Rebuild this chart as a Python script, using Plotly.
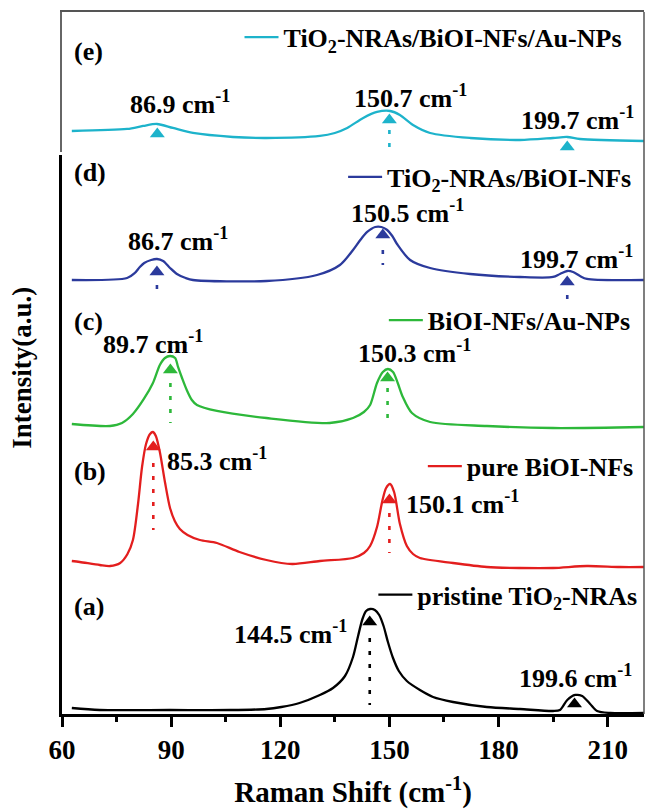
import plotly.graph_objects as go

# ---------------- data (Raman shift in cm-1, intensity in a.u., stacked) ----------------
# (a) pristine TiO2-NRAs
a_x = [62.7, 70.4, 89.7, 106.2, 116.2, 120.3, 125.3, 130.9, 134.5, 137.8, 140.0, 141.4, 142.6, 143.6, 144.7,
       146.0, 147.2, 148.4, 149.6, 151.0, 152.6, 154.8, 158.4, 162.0, 167.5, 176.8, 185.9, 195.0, 196.9, 198.9,
       201.1, 203.0, 205.2, 207.1, 210.7, 220.0]
a_y = [6, 4, 4, 4, 5, 7, 11, 19, 26, 38, 57, 78, 95, 103, 105, 104, 99, 88, 72, 56, 43, 33, 24, 17, 12, 7,
       5, 3, 4, 14, 19, 18, 10, 3, 1, 1]
# (b) pure BiOI-NFs
b_x = [62.7, 64.9, 70.4, 73.2, 76.0, 78.0, 79.5, 80.9, 82.0, 83.1, 84.2, 85.0, 85.8, 86.9, 88.3, 89.7, 91.0,
       92.4, 94.5, 97.9, 102.6, 108.8, 116.2, 123.3, 130.9, 140.0, 143.0, 144.7, 146.6, 148.0, 149.1, 150.2,
       151.3, 152.9, 154.8, 156.5, 158.4, 167.5, 176.8, 185.9, 195.0, 204.3, 213.4, 220.0]
b_y = [153, 152, 149, 148, 151, 160, 174, 210, 247, 270, 280, 282, 278, 262, 232, 206, 193, 185, 179, 174,
       171, 162, 154, 150, 153, 156, 161, 168, 187, 212, 226, 230, 222, 190, 168, 160, 156, 151, 147, 146,
       146, 148, 147, 147]
# (c) BiOI-NFs/Au-NPs
c_x = [62.7, 73.2, 76.5, 79.5, 82.5, 85.0, 86.9, 88.3, 89.7, 91.1, 91.9, 93.0, 94.3, 95.7, 97.1, 102.6,
       116.2, 133.6, 140.0, 143.0, 144.7, 146.6, 148.2, 149.6, 151.0, 152.3, 153.7, 156.2, 161.2, 176.8,
       195.0, 220.0]
c_y = [290, 288, 291, 300, 315, 331, 349, 356, 358, 356, 347, 336, 324, 314, 309, 303, 296, 291, 296, 302,
       309, 331, 342, 345, 342, 331, 317, 301, 292, 288, 286, 287]
# (d) TiO2-NRAs/BiOI-NFs
d_x = [62.7, 77.9, 80.0, 81.4, 82.6, 84.5, 86.1, 87.8, 89.7, 91.6, 94.0, 96.0, 116.2, 130.1, 136.4, 140.0,
       142.0, 143.9, 146.1, 147.8, 149.4, 150.8, 152.1, 155.7, 161.2, 172.2, 185.9, 195.0, 196.9, 198.9,
       200.5, 202.4, 204.3, 220.0]
d_y = [434, 436, 441, 447, 451, 454, 455, 453, 446, 440, 436, 434, 433, 439, 449, 464, 474, 482, 487, 487,
       484, 478, 470, 454, 446, 440, 437, 437, 440, 443, 442, 438, 435, 434]
# (e) TiO2-NRAs/BiOI-NFs/Au-NPs
e_x = [62.7, 77.9, 82.3, 86.1, 90.5, 96.0, 107.0, 116.2, 130.9, 135.0, 138.4, 142.8, 146.6, 150.2, 152.9,
       156.5, 161.2, 172.2, 185.9, 195.0, 198.9, 202.4, 220.0]
e_y = [21, 23, 26, 28, 24, 19, 15, 14, 16, 19, 24, 34, 40, 41, 37, 27, 19, 14, 12, 14, 15, 13, 11]

# peak markers: position, marker height, dotted guide top / bottom, label text
a_pk_x = [144.6, 200.9]; a_pk_y = [92, 10]; a_dot_top = [76, None]; a_dot_bot = [9, None]
a_lbl = ["144.5", "199.6"]
b_pk_x = [85.1, 150.0]; b_pk_y = [267, 214]; b_dot_top = [251, 201]; b_dot_bot = [184, 161]
b_lbl = ["85.3", "150.1"]
c_pk_x = [89.8, 149.5]; c_pk_y = [344, 336]; c_dot_top = [331, 326]; c_dot_bot = [291, 294]
c_lbl = ["89.7", "150.3"]
d_pk_x = [86.1, 148.2, 198.9]; d_pk_y = [442, 479, 432]; d_dot_top = [429, 464, 419]; d_dot_bot = [425, 449, 415]
d_lbl = ["86.7", "150.5", "199.7"]
e_pk_x = [86.2, 150.0, 198.9]; e_pk_y = [18, 32, 5]; e_dot_top = [None, 22, None]; e_dot_bot = [None, 3, None]
e_lbl = ["86.9", "150.7", "199.7"]

# label anchor positions (x, y) for peak labels
a_lbl_x = [122.9, 201.2]; a_lbl_y = [81, 37]
b_lbl_x = [102.6, 170.0]; b_lbl_y = [254, 211]
c_lbl_x = [85.0, 157.0]; c_lbl_y = [371, 362]
d_lbl_x = [91.9, 155.1, 201.4]; d_lbl_y = [474, 502, 456]
e_lbl_x = [92.4, 155.7, 201.7]; e_lbl_y = [49, 55, 33]

names = ["pristine TiO<sub>2</sub>-NRAs", "pure BiOI-NFs", "BiOI-NFs/Au-NPs",
         "TiO<sub>2</sub>-NRAs/BiOI-NFs", "TiO<sub>2</sub>-NRAs/BiOI-NFs/Au-NPs"]
panel_tags = ["(a)", "(b)", "(c)", "(d)", "(e)"]
tag_y = [107, 242, 392, 541, 100]

xticks = [60, 90, 120, 150, 180, 210]

colors = ["#000000", "#E31E1E", "#2DB83A", "#2B3A9C", "#1DB3CB"]

FONT = "Times New Roman, Liberation Serif, serif"

fig = go.Figure()

series = [
    (a_x, a_y, a_pk_x, a_pk_y, a_dot_top, a_dot_bot, a_lbl, a_lbl_x, a_lbl_y),
    (b_x, b_y, b_pk_x, b_pk_y, b_dot_top, b_dot_bot, b_lbl, b_lbl_x, b_lbl_y),
    (c_x, c_y, c_pk_x, c_pk_y, c_dot_top, c_dot_bot, c_lbl, c_lbl_x, c_lbl_y),
    (d_x, d_y, d_pk_x, d_pk_y, d_dot_top, d_dot_bot, d_lbl, d_lbl_x, d_lbl_y),
    (e_x, e_y, e_pk_x, e_pk_y, e_dot_top, e_dot_bot, e_lbl, e_lbl_x, e_lbl_y),
]
legend_names = ["legend", "legend2", "legend3", "legend4", "legend5"]

annotations = []
for i, (sx, sy, px, py, dt, db, lbl, lx, ly) in enumerate(series):
    xa = "x2" if i == 4 else "x"
    ya = "y2" if i == 4 else "y"
    col = colors[i]
    fig.add_trace(go.Scatter(x=sx, y=sy, mode="lines",
                             line=dict(color=col, width=2.3, shape="spline", smoothing=0.8),
                             name=names[i], xaxis=xa, yaxis=ya, legend=legend_names[i], showlegend=True))
    # dotted guides
    gx, gy = [], []
    for k in range(len(px)):
        if dt[k] is not None:
            gx += [px[k], px[k], None]
            gy += [dt[k], db[k], None]
    if gx:
        fig.add_trace(go.Scatter(x=gx, y=gy, mode="lines", line=dict(color=col, width=2.6, dash="4px,9px"),
                                 xaxis=xa, yaxis=ya, showlegend=False, hoverinfo="skip"))
    fig.add_trace(go.Scatter(x=px, y=py, mode="markers", marker=dict(symbol="triangle-up", size=13, color=col),
                             xaxis=xa, yaxis=ya, showlegend=False))
    for k in range(len(lbl)):
        annotations.append(dict(x=lx[k], y=ly[k], xref=xa, yref=ya, text=f"{lbl[k]} cm<sup>-1</sup>",
                                showarrow=False, xanchor="center", yanchor="middle",
                                font=dict(family=FONT, size=26, color="black", weight="bold")))
    annotations.append(dict(x=62.75, y=tag_y[i], xref=xa, yref=ya, text=panel_tags[i], showarrow=False,
                            xanchor="left", yanchor="middle",
                            font=dict(family=FONT, size=26, color="black", weight="bold")))

annotations.append(dict(x=-0.069, y=0.493, xref="paper", yref="paper", text="Intensity(a.u.)", textangle=-90,
                        showarrow=False, xanchor="center", yanchor="middle",
                        font=dict(family=FONT, size=27, color="black", weight="bold")))

# legends
leg_pos = [(0.535, 0.170), (0.620, 0.353), (0.553, 0.561), (0.483, 0.765), (0.305, 0.964)]
leg_layout = {}
for i, ln in enumerate(legend_names):
    leg_layout[ln] = dict(x=leg_pos[i][0], y=leg_pos[i][1], xanchor="left", yanchor="middle",
                          bgcolor="rgba(0,0,0,0)", borderwidth=0, itemwidth=34,
                          font=dict(family=FONT, size=26, color="black", weight="bold"))

fig.update_layout(
    width=646, height=809,
    margin=dict(l=62, r=2, t=12, b=95),
    paper_bgcolor="white", plot_bgcolor="white",
    annotations=annotations,
    xaxis=dict(domain=[0, 1], anchor="y", range=[60, 220], showline=True, linecolor="black", linewidth=2.5,
               ticks="outside", ticklen=10, tickwidth=2.5, tickcolor="black", tickvals=xticks,
               minor=dict(tickvals=[75, 105, 135, 165, 195], ticks="outside", ticklen=5, tickwidth=2.5,
                          tickcolor="black"),
               showgrid=False, zeroline=False,
               tickfont=dict(family=FONT, size=27, color="black", weight="bold"),
               title=dict(text="Raman Shift (cm<sup>-1</sup>)", standoff=19,
                          font=dict(family=FONT, size=29, color="black", weight="bold"))),
    yaxis=dict(domain=[0, 0.7963], anchor="x", range=[0, 559], showline=True, linecolor="black", linewidth=2.5,
               showticklabels=False, ticks="", showgrid=False, zeroline=False),
    xaxis2=dict(domain=[0, 1], anchor="y2", range=[60, 220], side="top", showline=True, linecolor="#555555",
                linewidth=1.5, showticklabels=False, ticks="", showgrid=False, zeroline=False),
    yaxis2=dict(domain=[0.8006, 1], anchor="x2", range=[0, 140], showline=True, linecolor="#666666",
                linewidth=1.5, showticklabels=False, ticks="", showgrid=False, zeroline=False),
    shapes=[dict(type="line", xref="paper", yref="paper", x0=1, x1=1, y0=0, y1=1,
                 line=dict(color="#555555", width=1.5))],
    **leg_layout,
)

fig.write_html("out.html")
